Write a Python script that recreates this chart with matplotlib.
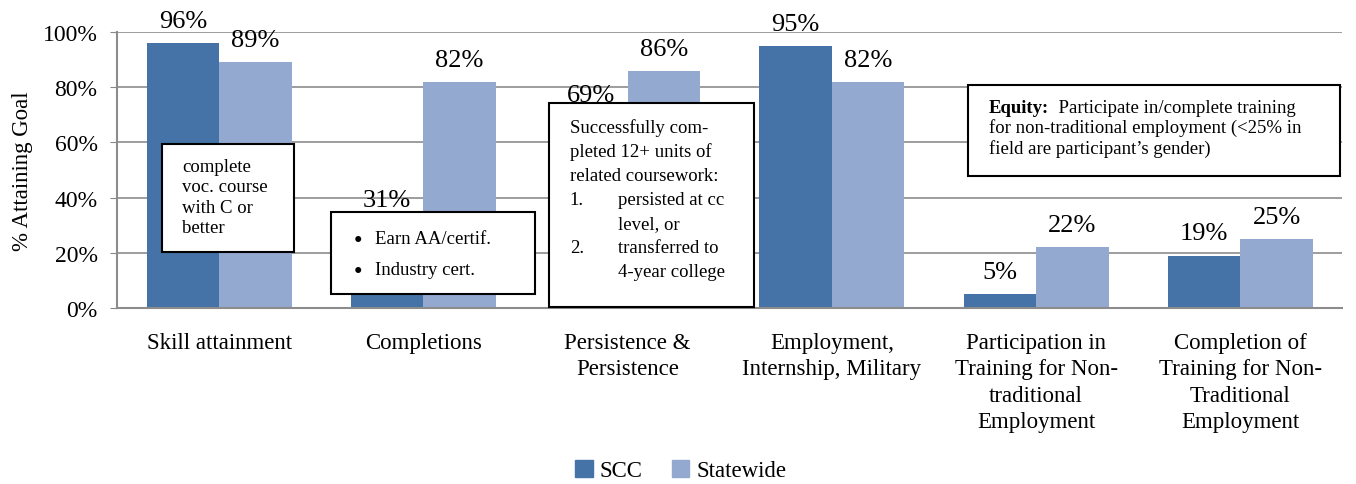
import matplotlib.pyplot as plt
from matplotlib.patches import Rectangle, Patch
import numpy as np

plt.rcParams['font.family'] = ['Liberation Serif', 'DejaVu Serif']

categories = ['Skill attainment', 'Completions', 'Persistence &\nPersistence',
              'Employment,\nInternship, Military',
              'Participation in\nTraining for Non-\ntraditional\nEmployment',
              'Completion of\nTraining for Non-\nTraditional\nEmployment']
scc = [96, 31, 69, 95, 5, 19]
statewide = [89, 82, 86, 82, 22, 25]
yticks = [0, 20, 40, 60, 80, 100]

c_scc = '#4572A7'
c_state = '#93A9CF'

fig = plt.figure(figsize=(13.56, 4.85), dpi=100)
ax = fig.add_axes([0.0863, 0.363, 0.9037, 0.569])

x = np.arange(len(categories))
w = 0.355
ax.bar(x - w / 2, scc, w, color=c_scc, zorder=2)
ax.bar(x + w / 2, statewide, w, color=c_state, zorder=2)

for i in range(len(x)):
    ax.annotate(f'{scc[i]}%', (x[i] - w / 2, scc[i]), xytext=(0, 8),
                textcoords='offset points', ha='center', va='bottom', fontsize=19, zorder=6)
    ax.annotate(f'{statewide[i]}%', (x[i] + w / 2, statewide[i]), xytext=(0, 8),
                textcoords='offset points', ha='center', va='bottom', fontsize=19, zorder=6)

ax.set_xlim(-0.5, 5.5)
ax.set_ylim(0, 100)
ax.set_yticks(yticks)
ax.set_yticklabels([f'{t}%' for t in yticks], fontsize=17)
ax.set_xticks(x)
ax.set_xticklabels(categories, fontsize=16.5, linespacing=1.35, va='top')
ax.tick_params(axis='x', length=0, pad=17)
ax.tick_params(axis='y', length=5, color='#888888', pad=9)
ax.set_ylabel('% Attaining Goal', fontsize=16.5, labelpad=7)
ax.yaxis.grid(True, color='#8c8c8c', linewidth=1.2, zorder=0)
ax.set_axisbelow(True)
for s in ['top', 'right']:
    ax.spines[s].set_visible(False)
for s in ['left', 'bottom']:
    ax.spines[s].set_color('#8c8c8c')
    ax.spines[s].set_linewidth(1.5)


def box(x0, y0, x1, y1):
    ax.add_patch(Rectangle((x0, y0), x1 - x0, y1 - y0, facecolor='white',
                           edgecolor='black', linewidth=1.5, zorder=4, clip_on=False))


fs = 13.5
# box 1
box(-0.28, 20.3, 0.366, 59.4)
for k, line in enumerate(['complete', 'voc. course', 'with C or', 'better']):
    ax.text(-0.18, 51.3 - k * 7.4, line, fontsize=fs, va='center', ha='left', zorder=5)

# box 2
box(0.547, 5.1, 1.546, 34.8)
for k, line in enumerate(['Earn AA/certif.', 'Industry cert.']):
    yy = 25.0 - k * 10.9
    ax.text(0.68, yy, '\u25cf', fontsize=10, va='center', ha='center', zorder=5)
    ax.text(0.763, yy, line, fontsize=fs, va='center', ha='left', zorder=5)

# box 3
box(1.615, 0.3, 2.618, 74.3)
lines3 = [('', 'Successfully com-', 0), ('', 'pleted 12+ units of', 0),
          ('', 'related coursework:', 0), ('1.', 'persisted at cc', 1),
          ('', 'level, or', 1), ('2.', 'transferred to', 1), ('', '4-year college', 1)]
for k, (num, line, indent) in enumerate(lines3):
    yy = 65.6 - k * 8.75
    if num:
        ax.text(1.717, yy, num, fontsize=fs, va='center', ha='left', zorder=5)
    ax.text(1.952 if indent else 1.717, yy, line, fontsize=fs, va='center', ha='left',
            zorder=5)

# box 4
box(3.665, 47.8, 5.486, 80.8)
t = ax.text(3.768, 72.6, 'Equity:', fontsize=fs, fontweight='bold', va='center',
            ha='left', zorder=5)
ax.annotate('  Participate in/complete training', xy=(1, 0.5), xycoords=t,
            fontsize=fs, va='center', ha='left', zorder=5)
ax.text(3.768, 65.4, 'for non-traditional employment (<25% in', fontsize=fs,
        va='center', ha='left', zorder=5)
ax.text(3.768, 58.1, 'field are participant\u2019s gender)', fontsize=fs,
        va='center', ha='left', zorder=5)

handles = [Patch(color=c_scc, label='SCC'), Patch(color=c_state, label='Statewide')]
fig.legend(handles=handles, loc='center', bbox_to_anchor=(0.502, 0.028), ncol=2,
           frameon=False, fontsize=16.5, handlelength=0.75, handleheight=0.75,
           handletextpad=0.3, columnspacing=1.3)

fig.savefig('out.png', dpi=100)
